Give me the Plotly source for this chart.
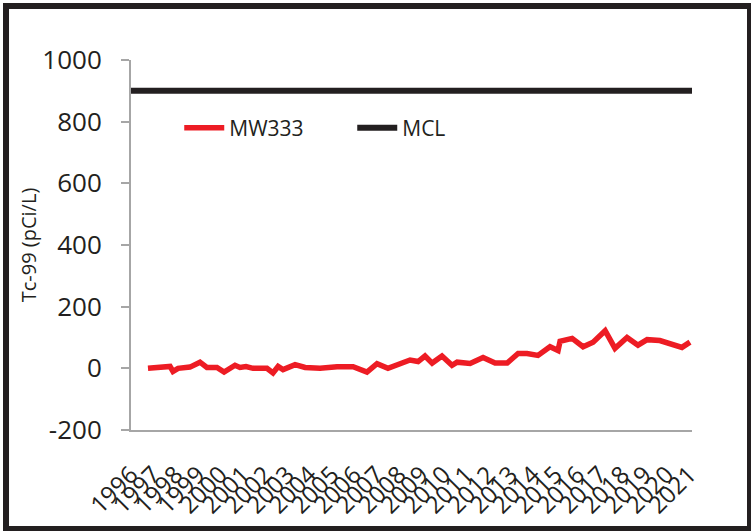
import plotly.graph_objects as go

# ---- data ----
mw333_year = [1996.76, 1997.75, 1997.88, 1998.11, 1998.64, 1999.09, 1999.40, 1999.85,
              2000.17, 2000.66, 2000.88, 2001.15, 2001.47, 2002.09, 2002.36, 2002.59,
              2002.81, 2003.35, 2003.80, 2004.47, 2005.23, 2005.95, 2006.57, 2007.02,
              2007.51, 2008.05, 2008.50, 2008.86, 2009.17, 2009.49, 2009.93, 2010.38,
              2010.61, 2011.19, 2011.77, 2012.31, 2012.85, 2013.34, 2013.74, 2014.23,
              2014.77, 2015.13, 2015.22, 2015.76, 2016.25, 2016.70, 2017.24, 2017.68,
              2018.22, 2018.71, 2019.12, 2019.69, 2020.24, 2020.68, 2021.04]
mw333_value = [0, 6, -10, 0, 4, 20, 3, 3,
               -12, 10, 3, 6, 0, 0, -15, 6,
               -4, 12, 3, 0, 5, 5, -12, 15,
               0, 17, 27, 22, 40, 17, 40, 10,
               20, 16, 35, 17, 17, 48, 48, 42,
               70, 58, 88, 97, 70, 85, 122, 65,
               100, 75, 93, 90, 78, 68, 85]

x_range = [1996.0, 2021.13]
mcl_year = x_range
mcl_value = [900, 900]

tick_years = list(range(1996, 2022))
tick_labels = [str(y) for y in tick_years]

y_ticks = [-200, 0, 200, 400, 600, 800, 1000]
y_tick_labels = ["-200", "0", "200", "400", "600", "800", "1000"]

FONT = "Open Sans"
TXT = "#231f20"
AXIS = "#a6a6a6"

fig = go.Figure()
fig.add_trace(go.Scatter(x=mw333_year, y=mw333_value, mode="lines", name="MW333",
                         line=dict(color="#ed1c24", width=5.5)))
fig.add_trace(go.Scatter(x=mcl_year, y=mcl_value, mode="lines", name="MCL",
                         line=dict(color="#231f20", width=6)))

fig.update_layout(
    width=751, height=531,
    margin=dict(l=131, r=59, t=60, b=101, autoexpand=False),
    paper_bgcolor="white", plot_bgcolor="white",
    font=dict(family=FONT, color=TXT),
    showlegend=True,
    legend=dict(orientation="h", x=0.086, y=0.816, xanchor="left", yanchor="middle",
                font=dict(size=21, family=FONT, color=TXT), bgcolor="rgba(0,0,0,0)",
                itemwidth=40, entrywidth=118),
    xaxis=dict(range=x_range, tickmode="array", tickvals=tick_years, ticktext=tick_labels,
               tickangle=-45, showline=True, linecolor=AXIS, linewidth=2,
               ticks="", showgrid=False, zeroline=False,
               tickfont=dict(size=24, family=FONT, color=TXT), ticklabelstandoff=19),
    yaxis=dict(range=[-200, 1000], tickmode="array", tickvals=y_ticks, ticktext=y_tick_labels,
               showline=True, linecolor=AXIS, linewidth=2,
               ticks="outside", ticklen=8, tickwidth=2, tickcolor=AXIS,
               showgrid=False, zeroline=False,
               tickfont=dict(size=26, family=FONT, color=TXT), ticklabelstandoff=14,
               title=dict(text="Tc-99 (pCi/L)", font=dict(size=20, family=FONT, color=TXT),
                          standoff=0)),
    shapes=[dict(type="rect", xref="paper", yref="paper",
                 x0=-0.2228, x1=1.1034, y0=-0.2676, y1=1.1459,
                 line=dict(color="#231f20", width=6), fillcolor="rgba(0,0,0,0)",
                 layer="above")],
)

fig.write_html("out.html", config={"displayModeBar": False},
               post_script="document.body.style.margin='0';document.body.style.overflow='hidden';")
